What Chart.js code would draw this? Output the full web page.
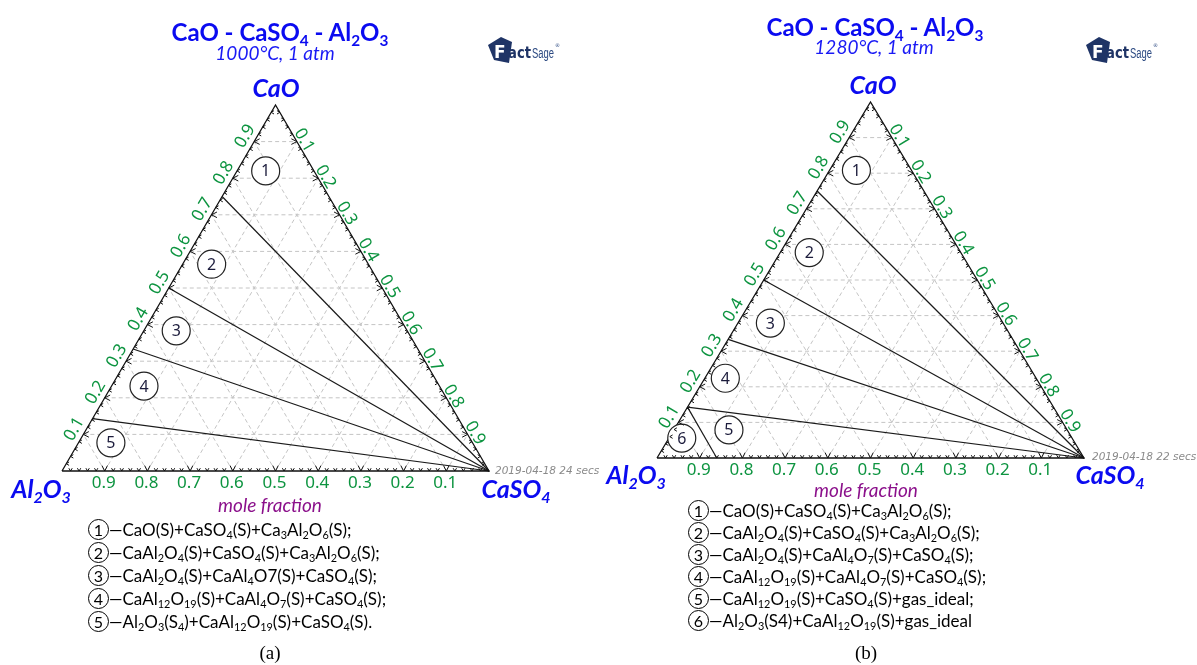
<!DOCTYPE html>
<html>
<head>
<meta charset="utf-8">
<title>CaO - CaSO4 - Al2O3 isothermal sections</title>
<script src="https://cdn.jsdelivr.net/npm/chart.js@4.4.1/dist/chart.umd.min.js"></script>
<style>
  html,body{margin:0;padding:0;background:#fff;}
  body{width:1197px;height:665px;position:relative;overflow:hidden;font-family:Lato,"Open Sans",sans-serif;}
  .panel{position:absolute;top:0;width:598px;height:665px;}
  .panel canvas{position:absolute;left:0;top:0;}
  .t{position:absolute;white-space:nowrap;transform:translate(-50%,-50%);line-height:1;}
  .title{font-weight:700;font-size:24px;color:#0b0bf0;}
  .cond{font-style:italic;font-size:19px;color:#1a1af5;}
  .vertex{font-weight:700;font-style:italic;font-size:25px;color:#0b0bf0;}
  .stamp{font-family:"DejaVu Sans",sans-serif;font-style:italic;font-size:10.5px;color:#8a8a8a;transform:translate(0,-50%);}
  .mf{font-style:italic;font-size:19px;color:#8b108b;}
  .cap{font-family:"Liberation Serif","Times New Roman",serif;font-size:19px;color:#000;}
  .legend{position:absolute;font-size:17px;color:#000;}
  .row{display:flex;align-items:center;white-space:nowrap;}
  .num{display:inline-block;box-sizing:border-box;width:21px;height:21px;border:1.2px solid #000;border-radius:50%;text-align:center;line-height:19px;font-size:16px;}
  sub{font-size:0.64em;vertical-align:baseline;position:relative;top:0.3em;line-height:0;}
</style>
</head>
<body>
<script>
// Grid / tick values shared by the three composition axes
const gridSteps = [0.1, 0.2, 0.3, 0.4, 0.5, 0.6, 0.7, 0.8, 0.9];
const axisTickLabels = ['0.1', '0.2', '0.3', '0.4', '0.5', '0.6', '0.7', '0.8', '0.9'];

// Calcium aluminates on the CaO–Al2O3 side (mole fraction CaO):
// Ca3Al2O6, CaAl2O4, CaAl4O7, CaAl12O19 — each tied to CaSO4
const tieCaO1000 = [0.75, 0.5, 1 / 3, 1 / 7];
const tieCaO1280 = [0.75, 0.5, 1 / 3, 1 / 7];

// 1280 °C: boundary CaAl12O19 -> Al2O3–CaSO4 side, as [CaO, CaSO4] pairs
const boundary1280CaO = [1 / 7, 0];
const boundary1280CaSO4 = [0, 0.14];

// Phase-field numbers and the compositions [CaO, CaSO4] where they sit
const fields1000 = ['1', '2', '3', '4', '5'];
const fieldCaO1000 = [0.82, 0.565, 0.383, 0.232, 0.077];
const fieldCaSO4_1000 = [0.067, 0.068, 0.076, 0.076, 0.076];

const fields1280 = ['1', '2', '3', '4', '5', '6'];
const fieldCaO1280 = [0.808, 0.577, 0.379, 0.224, 0.079, 0.056];
const fieldCaSO4_1280 = [0.063, 0.068, 0.076, 0.048, 0.129, 0.030];

const legend1000 = [
  'CaO(S)+CaSO<sub>4</sub>(S)+Ca<sub>3</sub>Al<sub>2</sub>O<sub>6</sub>(S);',
  'CaAl<sub>2</sub>O<sub>4</sub>(S)+CaSO<sub>4</sub>(S)+Ca<sub>3</sub>Al<sub>2</sub>O<sub>6</sub>(S);',
  'CaAl<sub>2</sub>O<sub>4</sub>(S)+CaAl<sub>4</sub>O7(S)+CaSO<sub>4</sub>(S);',
  'CaAl<sub>12</sub>O<sub>19</sub>(S)+CaAl<sub>4</sub>O<sub>7</sub>(S)+CaSO<sub>4</sub>(S);',
  'Al<sub>2</sub>O<sub>3</sub>(S<sub>4</sub>)+CaAl<sub>12</sub>O<sub>19</sub>(S)+CaSO<sub>4</sub>(S).'
];
const legend1280 = [
  'CaO(S)+CaSO<sub>4</sub>(S)+Ca<sub>3</sub>Al<sub>2</sub>O<sub>6</sub>(S);',
  'CaAl<sub>2</sub>O<sub>4</sub>(S)+CaSO<sub>4</sub>(S)+Ca<sub>3</sub>Al<sub>2</sub>O<sub>6</sub>(S);',
  'CaAl<sub>2</sub>O<sub>4</sub>(S)+CaAl<sub>4</sub>O<sub>7</sub>(S)+CaSO<sub>4</sub>(S);',
  'CaAl<sub>12</sub>O<sub>19</sub>(S)+CaAl<sub>4</sub>O<sub>7</sub>(S)+CaSO<sub>4</sub>(S);',
  'CaAl<sub>12</sub>O<sub>19</sub>(S)+CaSO<sub>4</sub>(S)+gas_ideal;',
  'Al<sub>2</sub>O<sub>3</sub>(S4)+CaAl<sub>12</sub>O<sub>19</sub>(S)+gas_ideal'
];

// Ternary composition (CaO, CaSO4) -> cartesian plot coordinates
const tern = (c, s) => ({ x: s + c / 2, y: c });

const GREEN = '#0d9440';

// Triangle ticks and rotated tick labels, plus the numbers inside field circles
const ternaryAxes = {
  id: 'ternaryAxes',
  afterDatasetsDraw(chart, args, opts) {
    const { ctx, scales: { x, y } } = chart;
    const P = (c, s) => { const p = tern(c, s); return [x.getPixelForValue(p.x), y.getPixelForValue(p.y)]; };
    const BL = P(0, 0), AP = P(1, 0), BR = P(0, 1);
    const unit = (a, b) => { const dx = b[0] - a[0], dy = b[1] - a[1], l = Math.hypot(dx, dy); return [dx / l, dy / l]; };
    const uL = unit(BL, AP), uR = unit(AP, BR);
    const nL = [uL[1], -uL[0]], nR = [uR[1], -uR[0]];

    ctx.save();
    ctx.strokeStyle = '#111';
    ctx.lineWidth = 1;
    const chev = (px, py, dx1, dy1, dx2, dy2) => {
      ctx.beginPath();
      ctx.moveTo(px + dx1, py + dy1); ctx.lineTo(px, py); ctx.lineTo(px + dx2, py + dy2);
      ctx.stroke();
    };
    for (let k = 1; k < 50; k++) {
      const v = k / 50;
      const big = k % 5 === 0;
      const L = big ? 5.5 : 2.8, H = big ? 2.8 : 1.7;
      let p = P(v, 0);            // CaO side
      chev(p[0], p[1], L, -H, L, H);
      p = P(1 - v, v);            // CaSO4 side
      chev(p[0], p[1], -L, -H, -L, H);
      p = P(0, 1 - v);            // Al2O3 side
      chev(p[0], p[1], -H, -L, H, -L);
    }

    ctx.fillStyle = GREEN;
    ctx.font = '17px "Noto Sans", sans-serif';
    ctx.textAlign = 'center';
    ctx.textBaseline = 'middle';
    const angL = Math.atan2(uL[1], uL[0]), angR = Math.atan2(uR[1], uR[0]);
    gridSteps.forEach((v, i) => {
      const lab = axisTickLabels[i];
      let p = P(v, 0);
      ctx.save();
      ctx.translate(p[0] + nL[0] * opts.offL, p[1] + nL[1] * opts.offL);
      ctx.rotate(angL);
      ctx.fillText(lab, 0, 0);
      ctx.restore();

      p = P(1 - v, v);
      ctx.save();
      ctx.translate(p[0] + nR[0] * opts.offR + uR[0] * 2.5, p[1] + nR[1] * opts.offR + uR[1] * 2.5);
      ctx.rotate(angR);
      ctx.fillText(lab, 0, 0);
      ctx.restore();

      p = P(0, 1 - v);
      ctx.fillText(lab, p[0] - 1, p[1] + opts.offB);
    });

    // numbers inside the phase-field circles
    const meta = chart.getDatasetMeta(opts.fieldDataset);
    ctx.fillStyle = '#1c1c3c';
    ctx.font = '16px "Noto Sans", sans-serif';
    meta.data.forEach((pt, i) => ctx.fillText(opts.fieldNames[i], pt.x, pt.y + 1));
    ctx.restore();
  }
};

const logoSvg =
  '<svg width="72" height="32" viewBox="0 0 72 32">' +
  '<polygon points="0,11 13,3 24,8 21,29 6,26" fill="#1f3466"/>' +
  '<text x="6" y="24" font-family="DejaVu Sans" font-weight="bold" font-size="17" fill="#fff">F</text>' +
  '<text x="20" y="24" font-family="DejaVu Sans" font-weight="bold" font-size="15" fill="#1f3466" textLength="23" lengthAdjust="spacingAndGlyphs">act</text>' +
  '<text x="44" y="24" font-family="Liberation Sans Narrow, Liberation Sans" font-size="14" fill="#2c4a82" textLength="22" lengthAdjust="spacingAndGlyphs">Sage</text>' +
  '<text x="67" y="13" font-family="DejaVu Sans" font-size="5" fill="#2c4a82">®</text>' +
  '</svg>';

function buildPanel(cfg) {
  const panel = document.createElement('div');
  panel.className = 'panel';
  panel.style.left = cfg.left + 'px';
  document.body.appendChild(panel);
  const cv = document.createElement('canvas');
  cv.width = 598; cv.height = 665;
  panel.appendChild(cv);

  const put = (cls, html, xy) => {
    const d = document.createElement('div');
    d.className = 't ' + cls;
    d.innerHTML = html;
    d.style.left = xy[0] + 'px';
    d.style.top = xy[1] + 'px';
    panel.appendChild(d);
    return d;
  };
  put('title', 'CaO - CaSO<sub>4</sub> - Al<sub>2</sub>O<sub>3</sub>', cfg.titleAt);
  put('cond', cfg.cond, cfg.condAt);
  put('vertex', 'CaO', cfg.caoAt);
  put('vertex', 'Al<sub>2</sub>O<sub>3</sub>', cfg.alAt);
  put('vertex', 'CaSO<sub>4</sub>', cfg.casAt);
  put('', logoSvg, cfg.logoAt);
  put('stamp', cfg.stamp, cfg.stampAt);
  put('mf', 'mole fraction', cfg.mfAt);
  put('cap', cfg.cap, cfg.capAt);

  const lg = document.createElement('div');
  lg.className = 'legend';
  lg.style.left = cfg.legendAt[0] + 'px';
  lg.style.top = (cfg.legendAt[1] - cfg.rowH / 2) + 'px';
  cfg.legend.forEach((txt, i) => {
    const r = document.createElement('div');
    r.className = 'row';
    r.style.height = cfg.rowH + 'px';
    r.innerHTML = '<span class="num">' + (i + 1) + '</span><span>\u2014' + txt + '</span>';
    lg.appendChild(r);
  });
  panel.appendChild(lg);

  const lineDs = (pts, extra) => Object.assign({
    type: 'scatter', data: pts, showLine: true, pointRadius: 0, borderColor: '#1a1a1a',
    borderWidth: 1.2, fill: false, clip: false, order: 2
  }, extra || {});

  const datasets = [];
  // dashed composition grid
  gridSteps.forEach(v => {
    const g = { borderColor: '#c4c4c4', borderWidth: 1, borderDash: [4, 3], order: 5 };
    datasets.push(lineDs([tern(v, 0), tern(v, 1 - v)], g));          // constant CaO
    datasets.push(lineDs([tern(0, v), tern(1 - v, v)], g));          // constant CaSO4
    datasets.push(lineDs([tern(0, 1 - v), tern(1 - v, 0)], g));      // constant Al2O3
  });
  // triangle frame
  datasets.push(lineDs([tern(0, 0), tern(0, 1), tern(1, 0), tern(0, 0)], { borderColor: '#111', borderWidth: 1.3, order: 1 }));
  // tie lines to CaSO4
  cfg.ties.forEach(c => datasets.push(lineDs([tern(c, 0), tern(0, 1)])));
  // extra boundary
  if (cfg.boundaryCaO) {
    datasets.push(lineDs(cfg.boundaryCaO.map((c, i) => tern(c, cfg.boundaryCaSO4[i]))));
  }
  // field circles
  datasets.push({
    type: 'scatter', order: 0, clip: false,
    data: cfg.fieldCaO.map((c, i) => tern(c, cfg.fieldCaSO4[i])),
    pointRadius: 14, pointBackgroundColor: '#fff', pointBorderColor: '#222', pointBorderWidth: 1.2
  });
  const fieldDataset = datasets.length - 1;

  new Chart(cv, {
    type: 'scatter',
    data: { datasets },
    options: {
      responsive: false, animation: false, devicePixelRatio: 1,
      layout: { padding: cfg.pad },
      events: [],
      plugins: {
        legend: { display: false }, tooltip: { enabled: false },
        ternaryAxes: { fieldDataset, fieldNames: cfg.fieldNames, offL: 10.5, offR: 7, offB: 12 }
      },
      scales: {
        x: { type: 'linear', min: 0, max: 1, display: false },
        y: { type: 'linear', min: 0, max: 1, display: false }
      }
    },
    plugins: [ternaryAxes]
  });
}

buildPanel({
  left: 0,
  pad: { left: 62, right: 109, top: 105, bottom: 194 },
  titleAt: [280, 32], cond: '1000°C, 1 atm', condAt: [275, 52], caoAt: [276, 87],
  alAt: [41, 488], casAt: [516, 488], logoAt: [524, 51],
  stamp: '2019-04-18 24 secs', stampAt: [495, 470],
  mfAt: [270, 504], cap: '(a)', capAt: [270, 652],
  legend: legend1000, legendAt: [88, 529], rowH: 23,
  ties: tieCaO1000,
  fieldNames: fields1000, fieldCaO: fieldCaO1000, fieldCaSO4: fieldCaSO4_1000
});

buildPanel({
  left: 598,
  pad: { left: 59, right: 112, top: 102, bottom: 207 },
  titleAt: [277, 27], cond: '1280°C, 1 atm', condAt: [276, 46], caoAt: [275, 84],
  alAt: [38, 474], casAt: [512, 474], logoAt: [524, 51],
  stamp: '2019-04-18 22 secs', stampAt: [494, 456],
  mfAt: [268, 489], cap: '(b)', capAt: [268, 652],
  legend: legend1280, legendAt: [90, 510], rowH: 22,
  ties: tieCaO1280, boundaryCaO: boundary1280CaO, boundaryCaSO4: boundary1280CaSO4,
  fieldNames: fields1280, fieldCaO: fieldCaO1280, fieldCaSO4: fieldCaSO4_1280
});
</script>
</body>
</html>
